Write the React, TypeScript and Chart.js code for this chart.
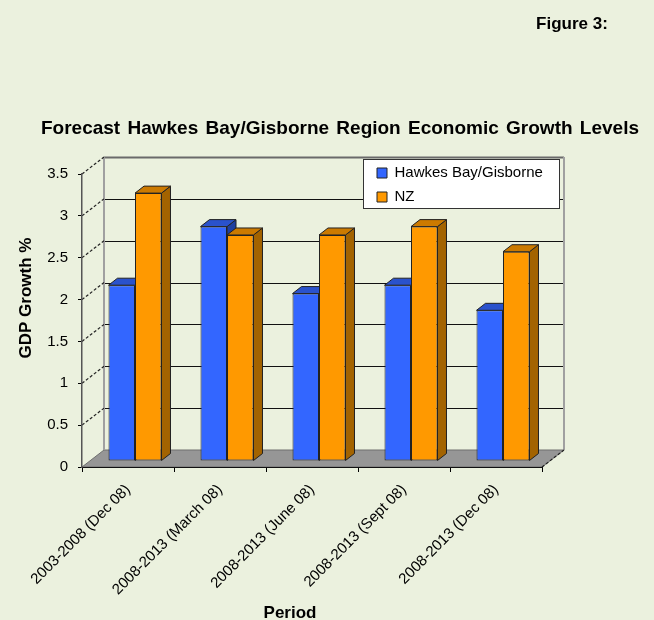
import { useEffect, useRef } from "react";
import { Chart, registerables } from "chart.js";

Chart.register(...registerables);

// ---------- data ----------
const categories = [
  "2003-2008 (Dec 08)",
  "2008-2013 (March 08)",
  "2008-2013 (June 08)",
  "2008-2013 (Sept 08)",
  "2008-2013 (Dec 08)",
];
const hawkesBayGisborne = [2.1, 2.8, 2.0, 2.1, 1.8];
const nzGrowth = [3.2, 2.7, 2.7, 2.8, 2.5];
const seriesNames = ["Hawkes Bay/Gisborne", "NZ"];
const yMin = 0;
const yMax = 3.5;
const yStep = 0.5;
const figureLabel = "Figure 3:";
const chartTitle = "Forecast Hawkes Bay/Gisborne Region Economic Growth Levels";
const yAxisTitle = "GDP Growth %";
const xAxisTitle = "Period";

// ---------- style ----------
const FONT = "'Liberation Sans', Arial, sans-serif";
const BG = "#EBF1DE";
const frontColors = ["#3366FF", "#FF9900"];
const topColors = ["#2A52CC", "#CC7A00"];
const sideColors = ["#1F3FA0", "#A36300"];
const DX = 22; // plot depth
const DY = -17;
const BSX = 7; // bar plane shift
const BSY = -6;
const BDX = 9; // bar depth
const BDY = -7;

function poly(ctx: CanvasRenderingContext2D, pts: number[][], fill: string, stroke: string) {
  ctx.beginPath();
  ctx.moveTo(pts[0][0], pts[0][1]);
  for (let i = 1; i < pts.length; i++) ctx.lineTo(pts[i][0], pts[i][1]);
  ctx.closePath();
  ctx.fillStyle = fill;
  ctx.fill();
  ctx.strokeStyle = stroke;
  ctx.lineWidth = 1;
  ctx.stroke();
}

const threeDPlugin = {
  id: "threeD",
  beforeDraw(chart: any) {
    const { ctx, chartArea: a, scales } = chart;
    const ys = scales.y;
    ctx.save();
    // floor
    poly(
      ctx,
      [
        [a.left, a.bottom],
        [a.right, a.bottom],
        [a.right + DX, a.bottom + DY],
        [a.left + DX, a.bottom + DY],
      ],
      "#969696",
      "#6e6e6e"
    );
    // back wall gridlines
    ys.ticks.forEach((t: any) => {
      if (t.value === yMin) return;
      const py = Math.round(ys.getPixelForValue(t.value) + DY) + 0.5;
      ctx.beginPath();
      ctx.moveTo(a.left + DX, py);
      ctx.lineTo(a.right + DX, py);
      ctx.strokeStyle = t.value === yMax ? "#6a6a6a" : "#111";
      ctx.lineWidth = t.value === yMax ? 2 : 1.2;
      ctx.stroke();
    });
    // back wall vertical edges
    ctx.strokeStyle = "#a0a0a0";
    ctx.lineWidth = 2;
    const topB = ys.getPixelForValue(yMax) + DY;
    const botB = ys.getPixelForValue(yMin) + DY;
    ctx.beginPath();
    ctx.moveTo(a.left + DX, topB);
    ctx.lineTo(a.left + DX, botB);
    ctx.moveTo(a.right + DX, topB);
    ctx.lineTo(a.right + DX, botB);
    ctx.stroke();
    // side wall dashed lines
    ctx.strokeStyle = "#222";
    ctx.lineWidth = 1.2;
    ctx.setLineDash([3, 2]);
    ys.ticks.forEach((t: any) => {
      if (t.value === yMin) return;
      const py = ys.getPixelForValue(t.value);
      ctx.beginPath();
      ctx.moveTo(a.left, py);
      ctx.lineTo(a.left + DX, py + DY);
      ctx.stroke();
    });
    // floor right edge
    ctx.beginPath();
    ctx.moveTo(a.right, a.bottom);
    ctx.lineTo(a.right + DX, a.bottom + DY);
    ctx.stroke();
    ctx.setLineDash([]);
    ctx.restore();

    // legend box
    const lg = chart.legend;
    if (lg) {
      lg.left = 368;
      lg.top = 156.5;
      lg.right = 562;
      lg.bottom = 260;
      lg.width = lg.right - lg.left;
      lg.height = lg.bottom - lg.top;
      ctx.save();
      ctx.fillStyle = "#ffffff";
      ctx.fillRect(363.5, 159.5, 196, 49);
      ctx.strokeStyle = "#333";
      ctx.lineWidth = 1;
      ctx.strokeRect(363.5, 159.5, 196, 49);
      ctx.restore();
    }
  },
  beforeDatasetsDraw(chart: any) {
    const ctx = chart.ctx;
    ctx.save();
    ctx.translate(BSX, BSY);
    const n = chart.data.labels.length;
    for (let i = 0; i < n; i++) {
      for (let d = 0; d < chart.data.datasets.length; d++) {
        const meta = chart.getDatasetMeta(d);
        const el = meta.data[i];
        if (!el) continue;
        const { x, y, base, width } = el.getProps(["x", "y", "base", "width"], true);
        const l = x - width / 2;
        const r = x + width / 2;
        poly(
          ctx,
          [
            [r, y],
            [r + BDX, y + BDY],
            [r + BDX, base + BDY],
            [r, base],
          ],
          sideColors[d],
          "#222"
        );
        poly(
          ctx,
          [
            [l, y],
            [l + BDX, y + BDY],
            [r + BDX, y + BDY],
            [r, y],
          ],
          topColors[d],
          "#222"
        );
      }
    }
  },
  afterDatasetsDraw(chart: any) {
    chart.ctx.restore();
  },
  afterDraw(chart: any) {
    const ctx = chart.ctx;
    ctx.save();
    ctx.fillStyle = "#000";
    ctx.textBaseline = "alphabetic";
    ctx.textAlign = "center";
    ctx.font = `bold 17px ${FONT}`;
    ctx.fillText(figureLabel, 572, 29);
    ctx.font = `bold 19px ${FONT}`;
    try {
      (ctx as any).wordSpacing = "2px";
    } catch (e) {
      /* ignore */
    }
    ctx.fillText(chartTitle, 340, 134);
    try {
      (ctx as any).wordSpacing = "0px";
    } catch (e) {
      /* ignore */
    }
    ctx.font = `bold 17px ${FONT}`;
    ctx.fillText(xAxisTitle, 290, 618);
    ctx.translate(31, 298);
    ctx.rotate(-Math.PI / 2);
    ctx.fillText(yAxisTitle, 0, 0);
    ctx.restore();
  },
};

export default function App() {
  const ref = useRef<HTMLCanvasElement | null>(null);
  useEffect(() => {
    document.body.style.margin = "0";
    document.body.style.background = BG;
    const canvas = ref.current;
    if (!canvas) return;
    const chart = new Chart(canvas, {
      type: "bar",
      data: {
        labels: categories,
        datasets: [
          {
            label: seriesNames[0],
            data: hawkesBayGisborne,
            backgroundColor: frontColors[0],
            borderColor: "#222",
            borderWidth: 1,
            borderSkipped: false,
          },
          {
            label: seriesNames[1],
            data: nzGrowth,
            backgroundColor: frontColors[1],
            borderColor: "#222",
            borderWidth: 1,
            borderSkipped: false,
          },
        ],
      },
      options: {
        responsive: false,
        animation: false,
        devicePixelRatio: 1,
        layout: { padding: { left: 0, right: 112, top: 174, bottom: 0 } },
        datasets: { bar: { categoryPercentage: 0.576, barPercentage: 1.0 } },
        font: { family: FONT },
        plugins: {
          title: { display: false },
          tooltip: { enabled: false },
          legend: {
            display: true,
            position: "chartArea" as any,
            fullSize: false,
            align: "start",
            labels: {
              boxWidth: 10,
              boxHeight: 10,
              padding: 9,
              color: "#000",
              font: { family: FONT, size: 15 },
            },
          },
        },
        scales: {
          x: {
            type: "category",
            afterFit: (s: any) => {
              s.height = 153;
            },
            grid: {
              offset: true,
              drawOnChartArea: false,
              drawTicks: true,
              tickLength: 5,
              color: "#000",
            },
            border: { display: true, color: "#111", width: 1 },
            ticks: {
              autoSkip: false,
              maxRotation: 45,
              minRotation: 45,
              padding: 9,
              color: "#000",
              font: { family: FONT, size: 15 },
            },
          },
          y: {
            type: "linear",
            min: yMin,
            max: yMax,
            afterFit: (s: any) => {
              s.width = 82;
            },
            grid: {
              drawOnChartArea: false,
              drawTicks: true,
              tickLength: 4,
              color: "#000",
            },
            border: { display: true, color: "#555", width: 1.5 },
            ticks: {
              stepSize: yStep,
              padding: 10,
              color: "#000",
              font: { family: FONT, size: 15 },
              callback: (v: any) => String(v),
            },
          },
        },
      },
      plugins: [threeDPlugin],
    });
    return () => chart.destroy();
  }, []);
  return (
    <div style={{ position: "fixed", left: 0, top: 0, width: 654, height: 620, background: BG }}>
      <canvas ref={ref} width={654} height={620} style={{ width: 654, height: 620, display: "block" }} />
    </div>
  );
}
